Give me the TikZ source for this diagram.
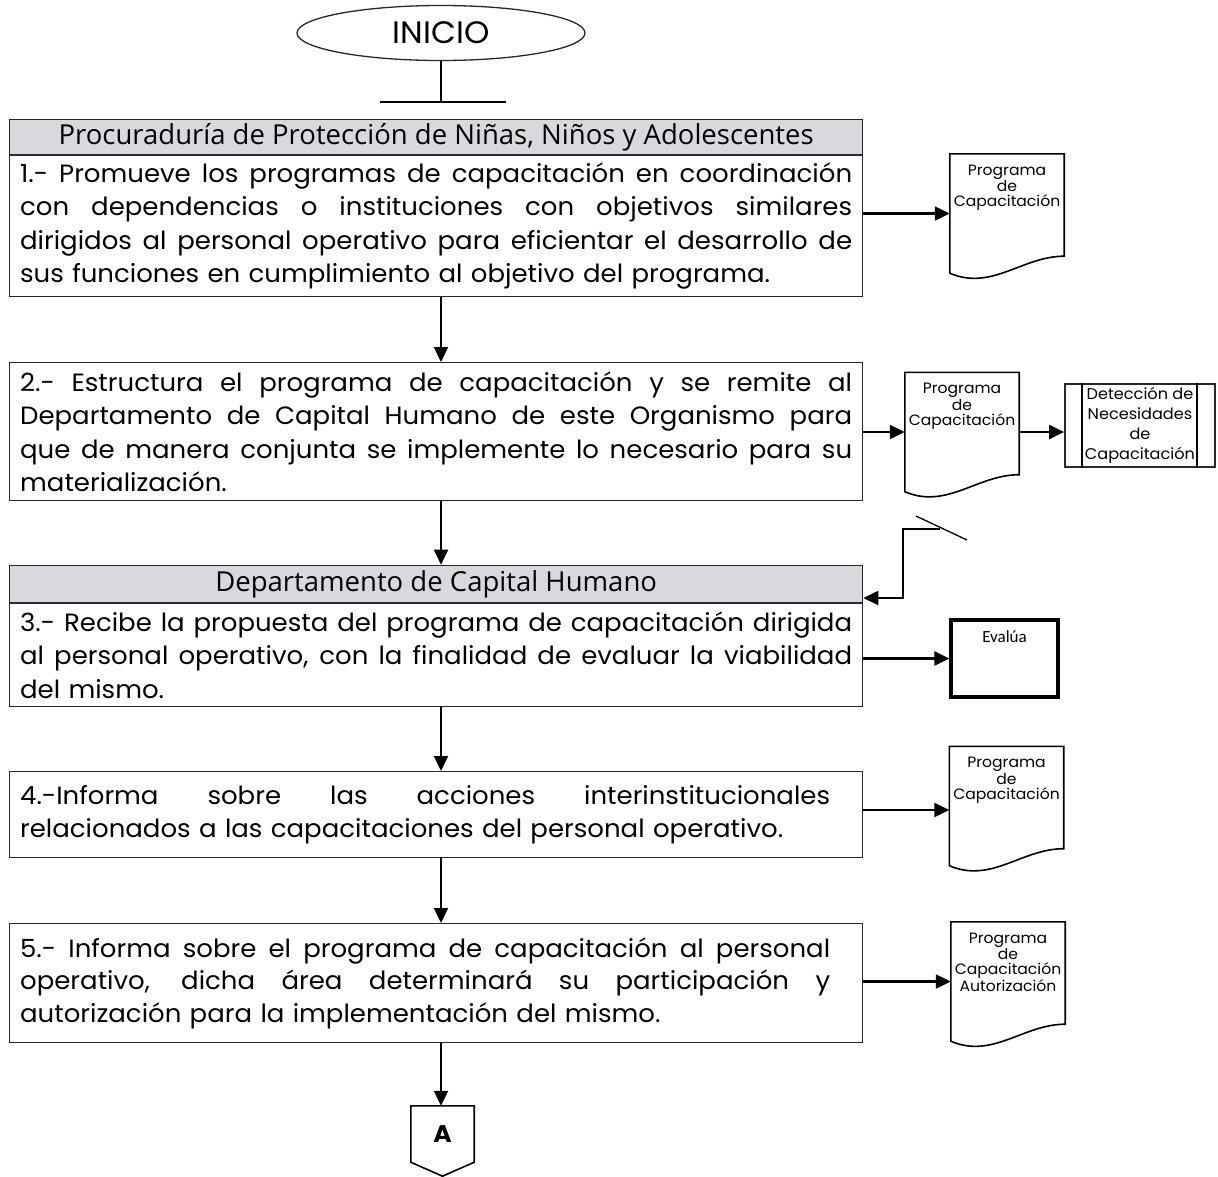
\documentclass[tikz,border=0pt]{standalone}
\usepackage{fontspec}
\setmainfont{Poppins}[FakeStretch=1.04]
\newfontfamily\hdrfont{Open Sans}
\newfontfamily\calfont{Carlito}
\usetikzlibrary{shapes.geometric,arrows.meta,calc}

\definecolor{hdrgray}{RGB}{216,216,222}
\definecolor{edge}{RGB}{40,40,40}

% one line of a step text, spread to the full measure
\newcommand\jline[2][832pt]{{\spaceskip=\fontdimen2\font plus 1fil minus 0.1em\relax\makebox[#1][s]{#2}}\\}
% document symbol drawn around a named placeholder node
\newcommand\docoutline[1]{%
  \draw[docline] (#1.north west) -- (#1.north east) -- ([yshift=17pt]#1.south east)
    .. controls ([xshift=-42pt,yshift=17pt]#1.south east) and ([xshift=42pt,yshift=-18pt]#1.south west) ..
    (#1.south west) -- cycle;}

\begin{document}
\begin{tikzpicture}[x=1pt,y=-1pt,
  bodytext/.style={font=\fontsize{25}{33.5}\selectfont},
  stepbox/.style={draw=edge, line width=1.3pt, inner xsep=10.5pt, inner ysep=0pt,
    text width=832pt, align=left, anchor=north west, bodytext},
  hdrbox/.style={draw=edge, line width=1.3pt, fill=hdrgray, minimum width=853pt,
    inner sep=0pt, anchor=south west, font=\hdrfont\fontsize{27.5}{30}\selectfont},
  arr/.style={line width=2.2pt, -{Triangle[length=15pt,width=14pt]}},
  plain/.style={line width=1.3pt},
  docline/.style={line width=1.6pt},
  docbox/.style={minimum width=114pt, minimum height=119pt, inner sep=0pt},
  doctext/.style={anchor=north, align=center, inner sep=0pt,
    font=\fontsize{15}{15}\selectfont},
]
\useasboundingbox (0,0) rectangle (1218,1176);

% start terminal
\node[ellipse, draw=edge, line width=1.3pt, minimum width=288pt, minimum height=55pt,
  inner sep=0pt, font=\fontsize{31}{33}\selectfont] (ini) at (441,33) {INICIO};
\coordinate (tbl) at (380,102);
\coordinate (tbr) at (506,102);
\draw[plain] (ini.south) -- (ini.south |- tbl);
\draw[plain] (tbl) -- (tbr);

% step 1
\node[stepbox, minimum height=141pt] (b1) at (9,155) {%
\jline{1.- Promueve los programas de capacitación en coordinación}
\jline{con dependencias o instituciones con objetivos similares}
\jline{dirigidos al personal operativo para eficientar el desarrollo de}
sus funciones en cumplimiento al objetivo del programa.};
\node[hdrbox, minimum height=35pt] (h1) at (b1.north west)
  {Procuraduría de Protección de Niñas, Niños y Adolescentes};

\node[docbox] (d1) at (1007,213.5) {};
\docoutline{d1}
\node[doctext] (d1t) at ([yshift=-11pt]d1.north) {Programa\\de\\Capacitación};
\draw[arr] (b1.east |- d1.west) -- (d1.west);

% step 2
\node[stepbox, minimum height=138pt] (b2) at (9,362) {%
\jline{2.- Estructura el programa de capacitación y se remite al}
\jline{Departamento de Capital Humano de este Organismo para}
\jline{que de manera conjunta se implemente lo necesario para su}
materialización.};
\draw[arr] (ini.south |- b1.south) -- (ini.south |- b2.north);

\node[docbox] (d2) at (962,432) {};
\docoutline{d2}
\node[doctext] (d2t) at ([yshift=-11pt]d2.north) {Programa\\de\\Capacitación};
\draw[arr] (b2.east |- d2.west) -- (d2.west);

\node[draw=edge, line width=1.8pt, minimum width=150pt, minimum height=83pt, inner sep=0pt,
  align=center, font=\fontsize{15.5}{20}\selectfont] (p2) at (1140,425.5)
  {Detección de\\Necesidades\\de\\Capacitación};
\draw[line width=1.6pt] ([xshift=18pt]p2.north west) -- ([xshift=18pt]p2.south west);
\draw[line width=1.6pt] ([xshift=-19pt]p2.north east) -- ([xshift=-19pt]p2.south east);
\draw[arr] (d2.east) -- (p2.west |- d2.east);

% step 3
\node[stepbox, minimum height=103pt] (b3) at (9,603) {%
\jline{3.- Recibe la propuesta del programa de capacitación dirigida}
\jline{al personal operativo, con la finalidad de evaluar la viabilidad}
del mismo.\par\vspace{5pt}};
\node[hdrbox, minimum height=37pt] (h3) at (b3.north west) {Departamento de Capital Humano};
\draw[arr] (ini.south |- b2.south) -- (ini.south |- h3.north);

% incoming link from the side
\coordinate (brk1) at (916,516);
\coordinate (brk2) at (967,540);
\coordinate (brkj) at (940,529);
\coordinate (elb) at (903,529);
\coordinate (in3) at ($(h3.south east)+(0,-5)$);
\draw[plain] (brk1) -- (brk2);
\draw[arr] (brkj) -- (elb) |- (in3);

\node[draw=black, line width=3.2pt, minimum width=107pt, minimum height=77pt, inner sep=0pt] (ev)
  at (1004.5,658.5) {};
\node[anchor=north, inner sep=0pt, font=\calfont\fontsize{17}{19}\selectfont] (evt)
  at ([yshift=-12pt]ev.north) {Evalúa};
\draw[arr] (b3.east |- ev.west) -- (ev.west);

% step 4
\node[stepbox, minimum height=86pt] (b4) at (9,771) {%
\jline[810pt]{4.-Informa sobre las acciones interinstitucionales}
relacionados a las capacitaciones del personal operativo.\par\vspace{6pt}};
\draw[arr] (ini.south |- b3.south) -- (ini.south |- b4.north);

\node[docbox] (d4) at (1006.5,806) {};
\docoutline{d4}
\node[doctext] (d4t) at ([yshift=-11pt]d4.north) {Programa\\de\\Capacitación};
\draw[arr] (b4.east |- 0,810) -- (d4.west |- 0,810);

% step 5
\node[stepbox, minimum height=119pt, font=\fontsize{25}{32.5}\selectfont] (b5) at (9,923) {%
\jline[810pt]{5.- Informa sobre el programa de capacitación al personal}
\jline[810pt]{operativo, dicha área determinará su participación y}
autorización para la implementación del mismo.\par\vspace{15pt}};
\draw[arr] (ini.south |- b4.south) -- (ini.south |- b5.north);

\node[docbox] (d5) at (1008,981.5) {};
\docoutline{d5}
\node[doctext] (d5t) at ([yshift=-11pt]d5.north) {Programa\\de\\Capacitación\\Autorización};
\draw[arr] (b5.east |- d5.west) -- (d5.west);

% off-page connector
\node[minimum width=63pt, minimum height=56pt, inner sep=0pt,
  font=\bfseries\fontsize{24}{26}\selectfont] (A) at (442.5,1134) {A};
\draw[line width=1.6pt] (A.north west) -- (A.north east) -- (A.south east)
  -- ($(A.south)+(0,14)$) -- (A.south west) -- cycle;
\draw[arr] (ini.south |- b5.south) -- (ini.south |- A.north);
\end{tikzpicture}
\end{document}
